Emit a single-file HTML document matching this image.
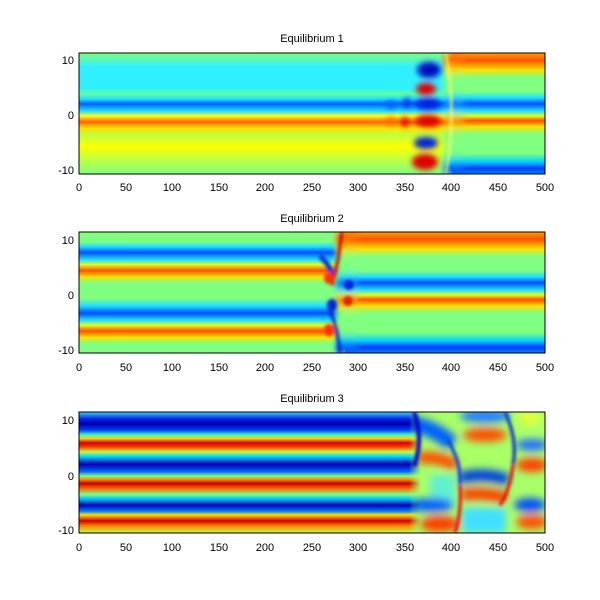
<!DOCTYPE html>
<html><head><style>
html,body{margin:0;padding:0;background:#fff;}
svg{display:block;font-family:"Liberation Sans",sans-serif;}
text{font-size:11px;fill:#000;}
</style></head><body>
<svg width="600" height="600" viewBox="0 0 600 600" xmlns="http://www.w3.org/2000/svg">
<defs>
<linearGradient id="g1l" x1="0" y1="0" x2="0" y2="1">
<stop offset="0" stop-color="#80ff80"/><stop offset="0.115" stop-color="#30f0ff"/><stop offset="0.29" stop-color="#30f0ff"/><stop offset="0.34" stop-color="#60ffa0"/><stop offset="0.38" stop-color="#20e0ff"/><stop offset="0.42" stop-color="#0060ff"/><stop offset="0.48" stop-color="#20e0ff"/><stop offset="0.52" stop-color="#ffff20"/><stop offset="0.57" stop-color="#ff6000"/><stop offset="0.62" stop-color="#ffe000"/><stop offset="0.68" stop-color="#c0ff40"/><stop offset="0.77" stop-color="#ffff00"/><stop offset="0.88" stop-color="#c0ff40"/><stop offset="1" stop-color="#80ff80"/>
</linearGradient>
<linearGradient id="g1r" x1="0" y1="0" x2="0" y2="1">
<stop offset="0" stop-color="#ffa000"/><stop offset="0.06" stop-color="#ff5000"/><stop offset="0.14" stop-color="#ffe000"/><stop offset="0.2" stop-color="#80ff80"/><stop offset="0.32" stop-color="#80ff80"/><stop offset="0.37" stop-color="#20e0ff"/><stop offset="0.42" stop-color="#0050ff"/><stop offset="0.48" stop-color="#20e0ff"/><stop offset="0.52" stop-color="#e0ff20"/><stop offset="0.56" stop-color="#ff5000"/><stop offset="0.61" stop-color="#ffe000"/><stop offset="0.67" stop-color="#80ff80"/><stop offset="0.83" stop-color="#80ff80"/><stop offset="0.9" stop-color="#00d0ff"/><stop offset="0.95" stop-color="#0040ff"/><stop offset="1" stop-color="#0080ff"/>
</linearGradient>
<linearGradient id="g2l" x1="0" y1="0" x2="0" y2="1">
<stop offset="0" stop-color="#80ff80"/><stop offset="0.08" stop-color="#80ff80"/><stop offset="0.12" stop-color="#20e0ff"/><stop offset="0.17" stop-color="#0050ff"/><stop offset="0.23" stop-color="#20e0ff"/><stop offset="0.27" stop-color="#e0ff20"/><stop offset="0.32" stop-color="#ff5000"/><stop offset="0.37" stop-color="#ffe000"/><stop offset="0.42" stop-color="#80ff80"/><stop offset="0.55" stop-color="#80ff80"/><stop offset="0.61" stop-color="#20e0ff"/><stop offset="0.67" stop-color="#0050ff"/><stop offset="0.73" stop-color="#20e0ff"/><stop offset="0.77" stop-color="#e0ff20"/><stop offset="0.82" stop-color="#ff5000"/><stop offset="0.87" stop-color="#ffe000"/><stop offset="0.92" stop-color="#80ff80"/><stop offset="1" stop-color="#80ff80"/>
</linearGradient>
<linearGradient id="g3l" x1="0" y1="0" x2="0" y2="1">
<stop offset="0" stop-color="#40d0ff"/><stop offset="0.06" stop-color="#0020e0"/><stop offset="0.10" stop-color="#0000b0"/><stop offset="0.15" stop-color="#0040ff"/><stop offset="0.19" stop-color="#40ffc0"/><stop offset="0.22" stop-color="#ffd000"/><stop offset="0.255" stop-color="#d00000"/><stop offset="0.29" stop-color="#ff4000"/><stop offset="0.33" stop-color="#c0ff40"/><stop offset="0.37" stop-color="#00d0ff"/><stop offset="0.43" stop-color="#0000b0"/><stop offset="0.49" stop-color="#0060ff"/><stop offset="0.53" stop-color="#80ff80"/><stop offset="0.56" stop-color="#ff8000"/><stop offset="0.59" stop-color="#c00000"/><stop offset="0.63" stop-color="#ff6000"/><stop offset="0.68" stop-color="#80ff80"/><stop offset="0.72" stop-color="#00c0ff"/><stop offset="0.77" stop-color="#0000b0"/><stop offset="0.82" stop-color="#0080ff"/><stop offset="0.85" stop-color="#ffe000"/><stop offset="0.90" stop-color="#d00000"/><stop offset="0.94" stop-color="#ff8000"/><stop offset="1" stop-color="#c0ff40"/>
</linearGradient>
<linearGradient id="fadeR" x1="0" y1="0" x2="1" y2="0">
<stop offset="0" stop-color="#fff" stop-opacity="1"/><stop offset="0.965" stop-color="#fff" stop-opacity="1"/><stop offset="1" stop-color="#fff" stop-opacity="0"/>
</linearGradient>
<mask id="m3"><rect x="79" y="412" width="342" height="121" fill="url(#fadeR)"/></mask>
<filter id="b4" x="-50%" y="-50%" width="200%" height="200%"><feGaussianBlur stdDeviation="4"/></filter>
<filter id="b3" x="-50%" y="-50%" width="200%" height="200%"><feGaussianBlur stdDeviation="3"/></filter>
<filter id="b2" x="-50%" y="-50%" width="200%" height="200%"><feGaussianBlur stdDeviation="1.5"/></filter>
<clipPath id="c1"><rect x="79" y="53" width="466" height="121"/></clipPath>
<clipPath id="c2"><rect x="79" y="232" width="466" height="121"/></clipPath>
<clipPath id="c3"><rect x="79" y="412" width="466" height="121"/></clipPath>
</defs>

<!-- Panel 1 -->
<g clip-path="url(#c1)">
<rect x="79" y="53" width="380" height="121" fill="url(#g1l)"/>
<rect x="452" y="53" width="93" height="121" fill="url(#g1r)"/>
<rect x="444" y="53" width="20" height="121" fill="url(#g1r)" filter="url(#b3)"/>
<g filter="url(#b3)">
<ellipse cx="429" cy="70" rx="12" ry="8" fill="#0010c0"/>
<ellipse cx="426" cy="89" rx="10" ry="6" fill="#e00000"/>
<ellipse cx="428" cy="104" rx="13" ry="6" fill="#0020e0"/>
<ellipse cx="428" cy="121" rx="13" ry="6" fill="#e00000"/>
<ellipse cx="426" cy="143" rx="12" ry="6" fill="#0020e0"/>
<ellipse cx="425" cy="162" rx="13" ry="8" fill="#e00000"/>
<ellipse cx="391" cy="105" rx="5" ry="4" fill="#0060ff"/>
<ellipse cx="391" cy="121" rx="5" ry="4" fill="#ff7000"/>
<ellipse cx="407" cy="103" rx="4" ry="5" fill="#0030e0"/>
<ellipse cx="405" cy="122" rx="4" ry="5" fill="#e00000"/>
</g>
<path d="M446 53 Q457 113 446 174" stroke="#ffff60" stroke-width="2" fill="none" filter="url(#b2)"/>
</g>
<rect x="79" y="53" width="466" height="121" fill="none" stroke="#000" stroke-width="1"/>

<!-- Panel 2 -->
<g clip-path="url(#c2)">
<rect x="79" y="232" width="268" height="121" fill="url(#g2l)"/>
<rect x="345" y="232" width="200" height="121" fill="url(#g1r)"/>
<rect x="336" y="232" width="22" height="121" fill="url(#g1r)" filter="url(#b3)"/>
<g filter="url(#b2)">
<path d="M342 232 L338 260 L332 285" stroke="#c00000" stroke-width="3" fill="none"/>
<path d="M320 256 Q330 265 332 275" stroke="#0030e0" stroke-width="5" fill="none"/>
<ellipse cx="329" cy="278" rx="5" ry="6" fill="#ff3000"/>
<ellipse cx="332" cy="305" rx="5" ry="6" fill="#0020d0"/>
<ellipse cx="329" cy="330" rx="5" ry="6" fill="#ff3000"/>
<path d="M330 310 Q338 330 340 353" stroke="#0020c0" stroke-width="3" fill="none"/>
<ellipse cx="349" cy="285" rx="5" ry="5" fill="#0020e0"/>
<ellipse cx="348" cy="301" rx="5" ry="5" fill="#e02000"/>
</g>
</g>
<rect x="79" y="232" width="466" height="121" fill="none" stroke="#000" stroke-width="1"/>

<!-- Panel 3 -->
<g clip-path="url(#c3)">
<rect x="79" y="412" width="466" height="121" fill="#a8ff68"/>
<g filter="url(#b4)">
<rect x="430" y="475" width="25" height="30" fill="#60f0d0"/>
<path d="M412 424 Q435 428 452 444" stroke="#0060ff" stroke-width="16" fill="none"/>
<path d="M418 458 Q440 456 456 466" stroke="#ff5000" stroke-width="12" fill="none"/>
<ellipse cx="432" cy="505" rx="22" ry="7" fill="#0060ff"/>
<ellipse cx="440" cy="524" rx="20" ry="8" fill="#ff4000"/>
<ellipse cx="485" cy="416" rx="25" ry="7" fill="#2080ff"/>
<ellipse cx="485" cy="435" rx="22" ry="7" fill="#ff5000"/>
<path d="M460 478 Q485 472 508 480" stroke="#0040e0" stroke-width="12" fill="none"/>
<path d="M462 495 Q485 492 506 498" stroke="#ff4000" stroke-width="12" fill="none"/>
<rect x="462" y="508" width="44" height="25" fill="#40e0ff"/>
<ellipse cx="532" cy="445" rx="16" ry="6" fill="#2070ff"/>
<ellipse cx="532" cy="465" rx="16" ry="7" fill="#ff4000"/>
<ellipse cx="530" cy="505" rx="16" ry="7" fill="#0050ff"/>
<ellipse cx="532" cy="522" rx="16" ry="7" fill="#ff5000"/>
<ellipse cx="530" cy="418" rx="12" ry="8" fill="#e0ff40"/>
</g>
<rect x="79" y="412" width="342" height="121" fill="url(#g3l)" mask="url(#m3)"/>
<g filter="url(#b2)">
<path d="M414 412 Q424 440 414 466" stroke="#0000c0" stroke-width="4" fill="none"/>
<path d="M460 485 Q462 510 455 533" stroke="#e00000" stroke-width="3" fill="none"/>
<path d="M448 440 Q462 465 460 485" stroke="#0030e0" stroke-width="3" fill="none"/>
<path d="M505 412 Q518 440 513 465" stroke="#0020c0" stroke-width="3" fill="none"/>
<path d="M513 465 Q510 490 500 505" stroke="#e00000" stroke-width="3" fill="none"/>
</g>
</g>
<rect x="79" y="412" width="466" height="121" fill="none" stroke="#000" stroke-width="1"/>

<!-- Titles -->
<text x="312" y="42" text-anchor="middle">Equilibrium 1</text>
<text x="312" y="222" text-anchor="middle">Equilibrium 2</text>
<text x="312" y="402" text-anchor="middle">Equilibrium 3</text>

<!-- Y labels -->
<g text-anchor="end">
<text x="74" y="64">10</text><text x="74" y="119">0</text><text x="74" y="174">-10</text>
<text x="74" y="244">10</text><text x="74" y="299">0</text><text x="74" y="354">-10</text>
<text x="74" y="424">10</text><text x="74" y="480">0</text><text x="74" y="534">-10</text>
</g>

<!-- X labels -->
<g text-anchor="middle">
<text x="79" y="191">0</text><text x="126" y="191">50</text><text x="172" y="191">100</text><text x="219" y="191">150</text><text x="265" y="191">200</text><text x="312" y="191">250</text><text x="358" y="191">300</text><text x="405" y="191">350</text><text x="451" y="191">400</text><text x="498" y="191">450</text><text x="545" y="191">500</text>
<text x="79" y="371">0</text><text x="126" y="371">50</text><text x="172" y="371">100</text><text x="219" y="371">150</text><text x="265" y="371">200</text><text x="312" y="371">250</text><text x="358" y="371">300</text><text x="405" y="371">350</text><text x="451" y="371">400</text><text x="498" y="371">450</text><text x="545" y="371">500</text>
<text x="79" y="551">0</text><text x="126" y="551">50</text><text x="172" y="551">100</text><text x="219" y="551">150</text><text x="265" y="551">200</text><text x="312" y="551">250</text><text x="358" y="551">300</text><text x="405" y="551">350</text><text x="451" y="551">400</text><text x="498" y="551">450</text><text x="545" y="551">500</text>
</g>
</svg>
</body></html>
